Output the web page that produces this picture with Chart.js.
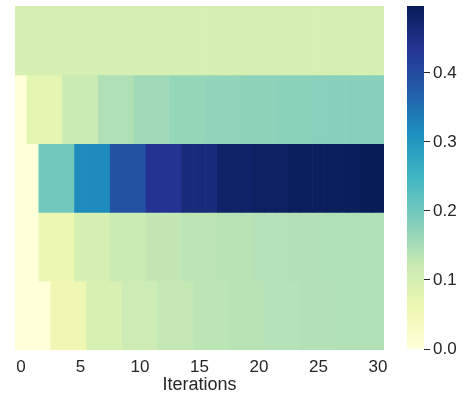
<!DOCTYPE html>
<html>
<head>
<meta charset="utf-8">
<script src="https://cdn.jsdelivr.net/npm/chart.js@4/dist/chart.umd.min.js"></script>
<style>
  html, body { margin: 0; padding: 0; background: #ffffff; }
  #wrap { position: relative; width: 476px; height: 396px; }
  #heat { position: absolute; left: 0; top: 0; }
  #cbar { position: absolute; left: 400px; top: 0; }
</style>
</head>
<body>
<div id="wrap">
  <canvas id="heat" width="400" height="396"></canvas>
  <canvas id="cbar" width="76" height="396"></canvas>
</div>
<script>
// ---- data ----
const ITERATIONS = [0,1,2,3,4,5,6,7,8,9,10,11,12,13,14,15,16,17,18,19,20,21,22,23,24,25,26,27,28,29,30];
const X_TICKS = [0,5,10,15,20,25,30];
const CBAR_TICKS = [0.0,0.1,0.2,0.3,0.4];
const X_TITLE = 'Iterations';

// rows from top to bottom, one value per iteration
const ROW1 = [0.099,0.099,0.099,0.099,0.099,0.099,0.099,0.099,0.099,0.099,0.099,0.099,0.099,0.099,0.099,0.099,0.099,0.099,0.099,0.099,0.099,0.099,0.099,0.099,0.099,0.099,0.099,0.099,0.099,0.099,0.099];
const ROW2 = [0.000,0.075,0.075,0.075,0.117,0.117,0.117,0.145,0.145,0.145,0.158,0.158,0.158,0.167,0.167,0.167,0.170,0.170,0.170,0.174,0.174,0.174,0.176,0.176,0.176,0.178,0.178,0.178,0.179,0.179,0.179];
const ROW3 = [0.000,0.000,0.200,0.200,0.200,0.318,0.318,0.318,0.390,0.390,0.390,0.437,0.437,0.437,0.462,0.462,0.462,0.480,0.480,0.480,0.486,0.486,0.486,0.491,0.491,0.491,0.495,0.495,0.495,0.497,0.497];
const ROW4 = [0.000,0.000,0.063,0.063,0.063,0.100,0.100,0.100,0.117,0.117,0.117,0.128,0.128,0.128,0.134,0.134,0.134,0.137,0.137,0.137,0.140,0.140,0.140,0.142,0.142,0.142,0.144,0.144,0.144,0.145,0.145];
const ROW5 = [0.000,0.000,0.000,0.060,0.060,0.060,0.095,0.095,0.095,0.115,0.115,0.115,0.127,0.127,0.127,0.134,0.134,0.134,0.137,0.137,0.137,0.140,0.140,0.140,0.142,0.142,0.142,0.144,0.144,0.144,0.145];
const ROWS = [ROW1, ROW2, ROW3, ROW4, ROW5];

// ---- colormap (YlGnBu) ----
const YLGNBU = ['#ffffd9','#edf8b1','#c7e9b4','#7fcdbb','#41b6c4','#1d91c0','#225ea8','#253494','#081d58'];
const VMIN = 0;
const VMAX = Math.max(...ROWS.flat());
function hexToRgb(h){ return [parseInt(h.slice(1,3),16), parseInt(h.slice(3,5),16), parseInt(h.slice(5,7),16)]; }
const STOPS = YLGNBU.map(hexToRgb);
function cmap(t){
  t = Math.max(0, Math.min(1, t));
  const p = t * (STOPS.length - 1);
  const i = Math.min(Math.floor(p), STOPS.length - 2);
  const f = p - i;
  const a = STOPS[i], b = STOPS[i+1];
  const c = a.map((v,k)=>Math.round(v + (b[k]-v)*f));
  return 'rgb(' + c.join(',') + ')';
}

const TEXT = '#262626';
const FONT = 'Liberation Sans, Arial, sans-serif';

// ---- heatmap ----
new Chart(document.getElementById('heat'), {
  type: 'bar',
  data: {
    labels: ITERATIONS.map(String),
    datasets: ROWS.map((vals, k) => ({
      data: vals.map(() => [ROWS.length - 1 - k, ROWS.length - k]),
      backgroundColor: vals.map(v => cmap((v - VMIN) / (VMAX - VMIN))),
      borderWidth: 0,
      barPercentage: 1,
      categoryPercentage: 1,
      grouped: false
    }))
  },
  options: {
    responsive: false,
    animation: false,
    events: [],
    layout: { padding: { left: 15, right: 16, top: 6, bottom: 0 } },
    plugins: { legend: { display: false }, tooltip: { enabled: false } },
    scales: {
      x: {
        grid: { display: false, drawTicks: false },
        border: { display: false },
        ticks: {
          autoSkip: false, maxRotation: 0, minRotation: 0, padding: 7,
          color: TEXT, font: { family: FONT, size: 17 },
          callback: function(v, i) { const lab = ITERATIONS[i]; return X_TICKS.includes(lab) ? String(lab) : ''; }
        },
        title: { display: true, text: X_TITLE, color: TEXT, font: { family: FONT, size: 18 }, padding: 0 },
        afterFit: a => { a.height = 46; }
      },
      y: { display: false, min: 0, max: ROWS.length }
    }
  }
});

// ---- colorbar ----
new Chart(document.getElementById('cbar'), {
  type: 'bar',
  data: {
    labels: ['cbar'],
    datasets: [{
      data: [[VMIN, VMAX]],
      borderWidth: 0,
      barPercentage: 1,
      categoryPercentage: 1,
      backgroundColor: (c) => {
        const area = c.chart.chartArea;
        if (!area) return YLGNBU[4];
        const g = c.chart.ctx.createLinearGradient(0, area.bottom, 0, area.top);
        YLGNBU.forEach((col, i) => g.addColorStop(i / (YLGNBU.length - 1), col));
        return g;
      }
    }]
  },
  options: {
    responsive: false,
    animation: false,
    events: [],
    layout: { padding: { left: 7, right: 0, top: 6, bottom: 47 } },
    plugins: { legend: { display: false }, tooltip: { enabled: false } },
    scales: {
      x: { display: false },
      y: {
        position: 'right',
        min: VMIN, max: VMAX,
        afterBuildTicks: a => { a.ticks = CBAR_TICKS.map(v => ({ value: v })); },
        grid: { drawOnChartArea: false, drawTicks: true, tickLength: 6, color: TEXT, lineWidth: 1 },
        border: { display: false },
        ticks: { padding: 3, color: TEXT, font: { family: FONT, size: 17 }, callback: v => Number(v).toFixed(1) },
        afterFit: a => { a.width = 52; a.paddingTop = 0; a.paddingBottom = 0; }
      }
    }
  }
});
</script>
</body>
</html>
